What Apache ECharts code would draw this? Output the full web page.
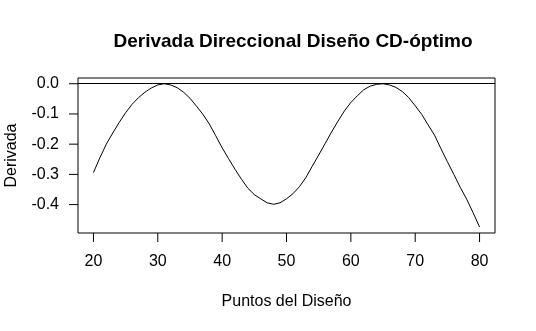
<!DOCTYPE html>
<html>
<head>
<meta charset="utf-8">
<script src="https://cdn.jsdelivr.net/npm/echarts@6/dist/echarts.min.js"></script>
<style>
  html, body { margin: 0; padding: 0; background: #fff; }
  #chart { width: 536px; height: 331px; }
</style>
</head>
<body>
<div id="chart"></div>
<script>
// puntos del diseño (eje x)
var puntos = [20, 21, 22, 23, 24, 25, 26, 27, 28, 29,
  30, 31, 32, 33, 34, 35, 36, 37, 38, 39,
  40, 41, 42, 43, 44, 45, 46, 47, 48, 49,
  50, 51, 52, 53, 54, 55, 56, 57, 58, 59,
  60, 61, 62, 63, 64, 65, 66, 67, 68, 69,
  70, 71, 72, 73, 74, 75, 76, 77, 78, 79, 80]
// derivada direccional
var derivada = [-0.294, -0.245, -0.200, -0.163, -0.128, -0.096, -0.068, -0.046, -0.028, -0.014,
  -0.004, 0.000, -0.004, -0.013, -0.028, -0.048, -0.074, -0.101, -0.133, -0.172,
  -0.212, -0.248, -0.283, -0.316, -0.346, -0.367, -0.381, -0.394, -0.399, -0.394,
  -0.381, -0.364, -0.341, -0.311, -0.273, -0.236, -0.198, -0.160, -0.124, -0.090,
  -0.062, -0.040, -0.020, -0.008, -0.002, 0.000, -0.004, -0.012, -0.026, -0.046,
  -0.073, -0.101, -0.136, -0.170, -0.215, -0.258, -0.300, -0.343, -0.382, -0.427, -0.474]
var xTicks = [20, 30, 40, 50, 60, 70, 80]
var yTicks = [0, -0.1, -0.2, -0.3, -0.4]

var xMin = 17.6, xMax = 82.4
var yMin = -0.494, yMax = 0.019
var tickLen = 9

var font = 'Liberation Sans, Arial, sans-serif'
var myChart = echarts.init(document.getElementById('chart'))

// marcas de los ejes dibujadas con series custom (axisTick no aparece en v6 aqui)
function tickSeries(ticks, isX) {
  return {
    type: 'custom',
    silent: true,
    clip: false,
    data: ticks,
    renderItem: function (params, api) {
      var v = api.value(0)
      var p = isX ? api.coord([v, yMin]) : api.coord([xMin, v])
      return {
        type: 'line',
        shape: isX
          ? { x1: p[0], y1: p[1], x2: p[0], y2: p[1] + tickLen }
          : { x1: p[0] - tickLen, y1: p[1], x2: p[0], y2: p[1] },
        style: { stroke: '#000', lineWidth: 1 },
      }
    },
  }
}

var option = {
  animation: false,
  backgroundColor: '#fff',
  title: {
    text: 'Derivada Direccional Diseño CD-óptimo',
    left: 288,
    top: 27,
    textAlign: 'center',
    textStyle: {
      fontFamily: font,
      fontWeight: 'bold',
      fontSize: 19,
      color: '#000',
    },
  },
  grid: {
    left: 78,
    right: 41,
    top: 78,
    bottom: 98,
    outerBoundsMode: 'none',
    show: true,
    borderColor: '#000',
    borderWidth: 1,
  },
  xAxis: {
    type: 'value',
    min: xMin,
    max: xMax,
    name: 'Puntos del Diseño',
    nameLocation: 'middle',
    nameGap: 61,
    nameTextStyle: { fontFamily: font, fontSize: 16, color: '#000' },
    axisLine: { show: false, onZero: false },
    splitLine: { show: false },
    axisTick: { show: false },
    axisLabel: {
      customValues: xTicks,
      margin: 21,
      fontFamily: font,
      fontSize: 16,
      color: '#000',
    },
  },
  yAxis: {
    type: 'value',
    min: yMin,
    max: yMax,
    name: 'Derivada',
    nameLocation: 'middle',
    nameGap: 58,
    nameRotate: 90,
    nameTextStyle: { fontFamily: font, fontSize: 16, color: '#000' },
    axisLine: { show: false, onZero: false },
    splitLine: { show: false },
    axisTick: { show: false },
    axisLabel: {
      customValues: yTicks,
      margin: 19,
      fontFamily: font,
      fontSize: 16,
      color: '#000',
      formatter: function (v) {
        return v.toFixed(1)
      },
    },
  },
  series: [
    {
      type: 'line',
      data: puntos.map(function (x, i) { return [x, derivada[i]] }),
      showSymbol: false,
      lineStyle: { color: '#000', width: 1 },
      markLine: {
        silent: true,
        symbol: 'none',
        label: { show: false },
        lineStyle: { color: '#000', width: 1, type: 'solid' },
        data: [{ yAxis: 0 }],
      },
    },
    tickSeries(xTicks, true),
    tickSeries(yTicks, false),
  ],
}
myChart.setOption(option)
</script>
</body>
</html>
